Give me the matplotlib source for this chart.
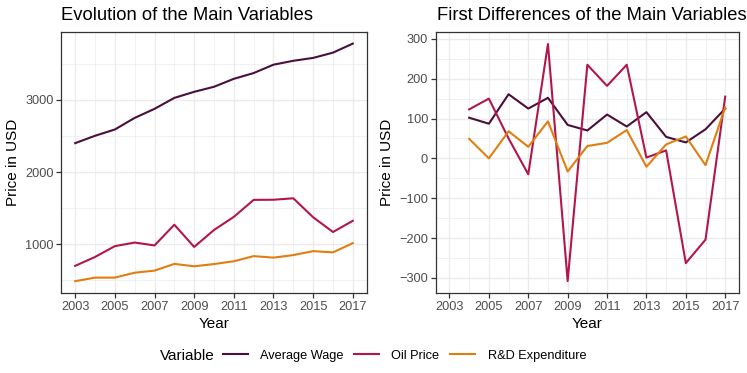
import matplotlib
matplotlib.use("Agg")
import matplotlib.pyplot as plt
from matplotlib.lines import Line2D
import numpy as np

plt.rcParams['font.family'] = ['Liberation Sans', 'DejaVu Sans']

years = list(range(2003, 2018))
average_wage = [2400, 2502, 2589, 2750, 2875, 3027, 3111, 3181, 3291, 3371, 3487, 3541, 3581, 3654, 3779]
oil_price = [700, 823, 973, 1023, 983, 1270, 962, 1197, 1379, 1614, 1616, 1636, 1373, 1169, 1324]
rd_expenditure = [488, 537, 537, 605, 634, 727, 694, 725, 764, 835, 814, 849, 904, 887, 1015]

diff_years = years[1:]
wage_diff = [102, 87, 161, 125, 152, 84, 70, 110, 80, 116, 54, 40, 73, 125]
oil_diff = [123, 150, 50, -40, 287, -308, 235, 182, 235, 2, 20, -263, -204, 155]
rd_diff = [49, 0, 68, 29, 93, -33, 31, 39, 71, -21, 35, 55, -17, 128]

series_names = ["Average Wage", "Oil Price", "R&D Expenditure"]
colors = ["#4A0F3B", "#B3164D", "#E07E12"]

x_major = list(range(2003, 2018, 2))
x_minor = list(range(2004, 2017, 2))

fig = plt.figure(figsize=(7.47, 3.73), dpi=100)
W, H = 747, 373

def style(ax, ymaj, ymin, ylim):
    ax.set_xlim(2002.3, 2017.7)
    ax.set_ylim(*ylim)
    ax.set_xticks(x_major)
    ax.set_xticks(x_minor, minor=True)
    ax.set_yticks(ymaj)
    ax.set_yticks(ymin, minor=True)
    ax.grid(True, which='major', color='#EBEBEB', lw=1.0, zorder=0)
    ax.grid(True, which='minor', color='#EBEBEB', lw=0.5, zorder=0)
    ax.set_axisbelow(True)
    for s in ax.spines.values():
        s.set_color('#333333')
        s.set_linewidth(0.9)
    ax.tick_params(which='major', length=3.5, width=0.9, color='#333333',
                   labelsize=9.2, labelcolor='#4D4D4D', pad=2)
    ax.tick_params(which='minor', length=0)
    ax.set_xlabel("Year", fontsize=11, labelpad=3.5)
    ax.set_ylabel("Price in USD", fontsize=11, labelpad=4)

ax1 = fig.add_axes([61.3 / W, 80 / H, (366.7 - 61.3) / W, (293 - 31.7) / H])
for vals, c in zip([average_wage, oil_price, rd_expenditure], colors):
    ax1.plot(years, vals, color=c, lw=1.5, zorder=3)
style(ax1, [1000, 2000, 3000], [500, 1500, 2500, 3500], (324, 3944))
ax1.text(0.0, 1.0 + 12 / 261, "Evolution of the Main Variables", transform=ax1.transAxes,
         ha='left', va='baseline', fontsize=13.2)

ax2 = fig.add_axes([435.7 / W, 80 / H, (739 - 435.7) / W, (293 - 31.7) / H])
for vals, c in zip([wage_diff, oil_diff, rd_diff], colors):
    ax2.plot(diff_years, vals, color=c, lw=1.5, zorder=3)
style(ax2, list(range(-300, 301, 100)), list(range(-250, 251, 100)), (-338, 318))
ax2.text(0.003, 1.0 + 12 / 261, "First Differences of the Main Variables", transform=ax2.transAxes,
         ha='left', va='baseline', fontsize=13.2)

fig.text(160 / W, (373 - 355.7) / H, "Variable", fontsize=11, ha='left', va='center')
handles = [Line2D([0], [0], color=c, lw=1.5) for c in colors]
fig.legend(handles, series_names, loc='center left', bbox_to_anchor=(223 / W, (373 - 355.7) / H),
           ncol=3, frameon=False, fontsize=9.2, handlelength=1.95, handletextpad=0.95,
           columnspacing=0.85, borderpad=0, borderaxespad=0)

fig.savefig("out.png", dpi=100)
